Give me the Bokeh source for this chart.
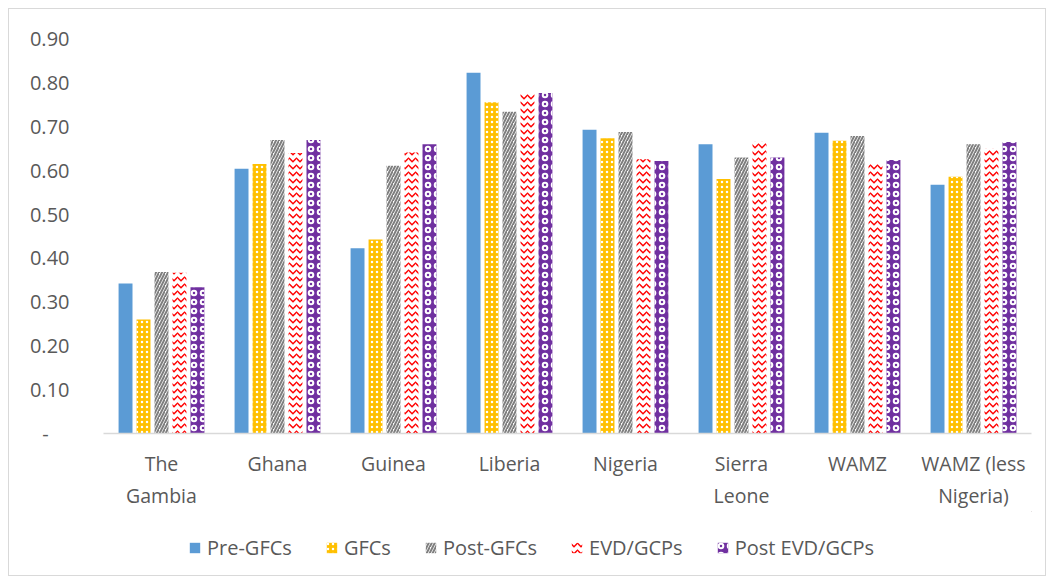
from bokeh.plotting import figure
from bokeh.layouts import column
from bokeh.models import ColumnDataSource, FixedTicker, NumeralTickFormatter, Legend, LegendItem, Range1d
from bokeh.transform import dodge
from bokeh.embed import file_html
from bokeh.resources import INLINE

categories = ["The\nGambia", "Ghana", "Guinea", "Liberia", "Nigeria",
              "Sierra\nLeone", "WAMZ", "WAMZ (less\nNigeria)"]
series_names = ["Pre-GFCs", "GFCs", "Post-GFCs", "EVD/GCPs", "Post EVD/GCPs"]
pre_gfcs = [0.342, 0.603, 0.422, 0.822, 0.692, 0.659, 0.685, 0.567]
gfcs = [0.260, 0.614, 0.442, 0.755, 0.673, 0.580, 0.667, 0.585]
post_gfcs = [0.368, 0.669, 0.610, 0.733, 0.687, 0.629, 0.678, 0.659]
evd_gcps = [0.366, 0.639, 0.640, 0.776, 0.625, 0.665, 0.616, 0.649]
post_evd_gcps = [0.333, 0.669, 0.659, 0.776, 0.621, 0.629, 0.623, 0.664]
y_ticks = [0.0, 0.1, 0.2, 0.3, 0.4, 0.5, 0.6, 0.7, 0.8, 0.9]

source = ColumnDataSource(dict(cat=categories, s0=pre_gfcs, s1=gfcs, s2=post_gfcs,
                               s3=evd_gcps, s4=post_evd_gcps))

FONT = "Open Sans"
TXT = "#595959"

p = figure(x_range=categories, y_range=Range1d(0, 0.9), width=1036, height=502,
           output_backend="svg", toolbar_location=None,
           min_border_left=94, min_border_right=14, min_border_top=29, min_border_bottom=78)
p.outline_line_color = None
p.xgrid.grid_line_color = None
p.ygrid.grid_line_color = None

styles = [
    dict(fill_color="#5B9BD5", line_color=None),
    dict(fill_color="#FFC000", line_color=None, hatch_pattern="dot", hatch_color="white", hatch_scale=5, hatch_weight=1.5),
    dict(fill_color="white", line_color=None, hatch_pattern="right_diagonal_line", hatch_color="#7F7F7F", hatch_scale=6, hatch_weight=2),
    dict(fill_color="white", line_color=None, hatch_pattern="horizontal_wave", hatch_color="#FF0000", hatch_scale=7, hatch_weight=1.5),
    dict(fill_color="#7030A0", line_color=None, hatch_pattern="ring", hatch_color="white", hatch_scale=9, hatch_weight=2),
]
offsets = [-0.31, -0.155, 0.0, 0.155, 0.31]
for i, (st, off) in enumerate(zip(styles, offsets)):
    p.vbar(x=dodge("cat", off, range=p.x_range), top=f"s{i}", width=0.12, source=source, **st)

p.xaxis.axis_line_color = "#D9D9D9"
p.xaxis.axis_line_width = 1.5
p.xaxis.major_tick_line_color = None
p.xaxis.minor_tick_line_color = None
p.xaxis.major_label_text_font = FONT
p.xaxis.major_label_text_font_size = "19.5px"
p.xaxis.major_label_text_color = TXT
p.xaxis.major_label_standoff = 10

p.yaxis.ticker = FixedTicker(ticks=y_ticks)
p.yaxis.formatter = NumeralTickFormatter(format="0.00")
p.yaxis.major_label_overrides = {0: "-\u00a0\u00a0\u00a0\u00a0"}
p.yaxis.axis_line_color = None
p.yaxis.major_tick_line_color = None
p.yaxis.minor_tick_line_color = None
p.yaxis.major_label_text_font = FONT
p.yaxis.major_label_text_font_size = "20px"
p.yaxis.major_label_text_color = TXT
p.yaxis.major_label_standoff = 28

# legend strip (legend-only renderers, placed outside the visible range)
lf = figure(width=1036, height=64, x_range=Range1d(0, 1), y_range=Range1d(0, 1),
            output_backend="svg", toolbar_location=None,
            min_border_left=0, min_border_right=0, min_border_top=0, min_border_bottom=0)
lf.axis.visible = False
lf.xgrid.grid_line_color = None
lf.ygrid.grid_line_color = None
lf.outline_line_color = None
offscreen = ColumnDataSource(dict(x=[10], top=[10]))
items = []
for name, st in zip(series_names, styles):
    r = lf.vbar(x="x", top="top", bottom=5, width=0.1, source=offscreen, **st)
    items.append(LegendItem(label=name, renderers=[r]))
legend = Legend(items=items, orientation="horizontal", location=(85, 14),
                label_text_font=FONT, label_text_font_size="20px", label_text_color=TXT,
                glyph_width=13, glyph_height=13, label_standoff=6, spacing=33,
                border_line_color=None, background_fill_alpha=0, margin=0, padding=0)
lf.add_layout(legend, "center")

layout = column(p, lf, spacing=0, margin=(8, 0, 0, 8),
                styles={"border": "1px solid #D9D9D9"})
open("out.html", "w").write(file_html(layout, INLINE))
